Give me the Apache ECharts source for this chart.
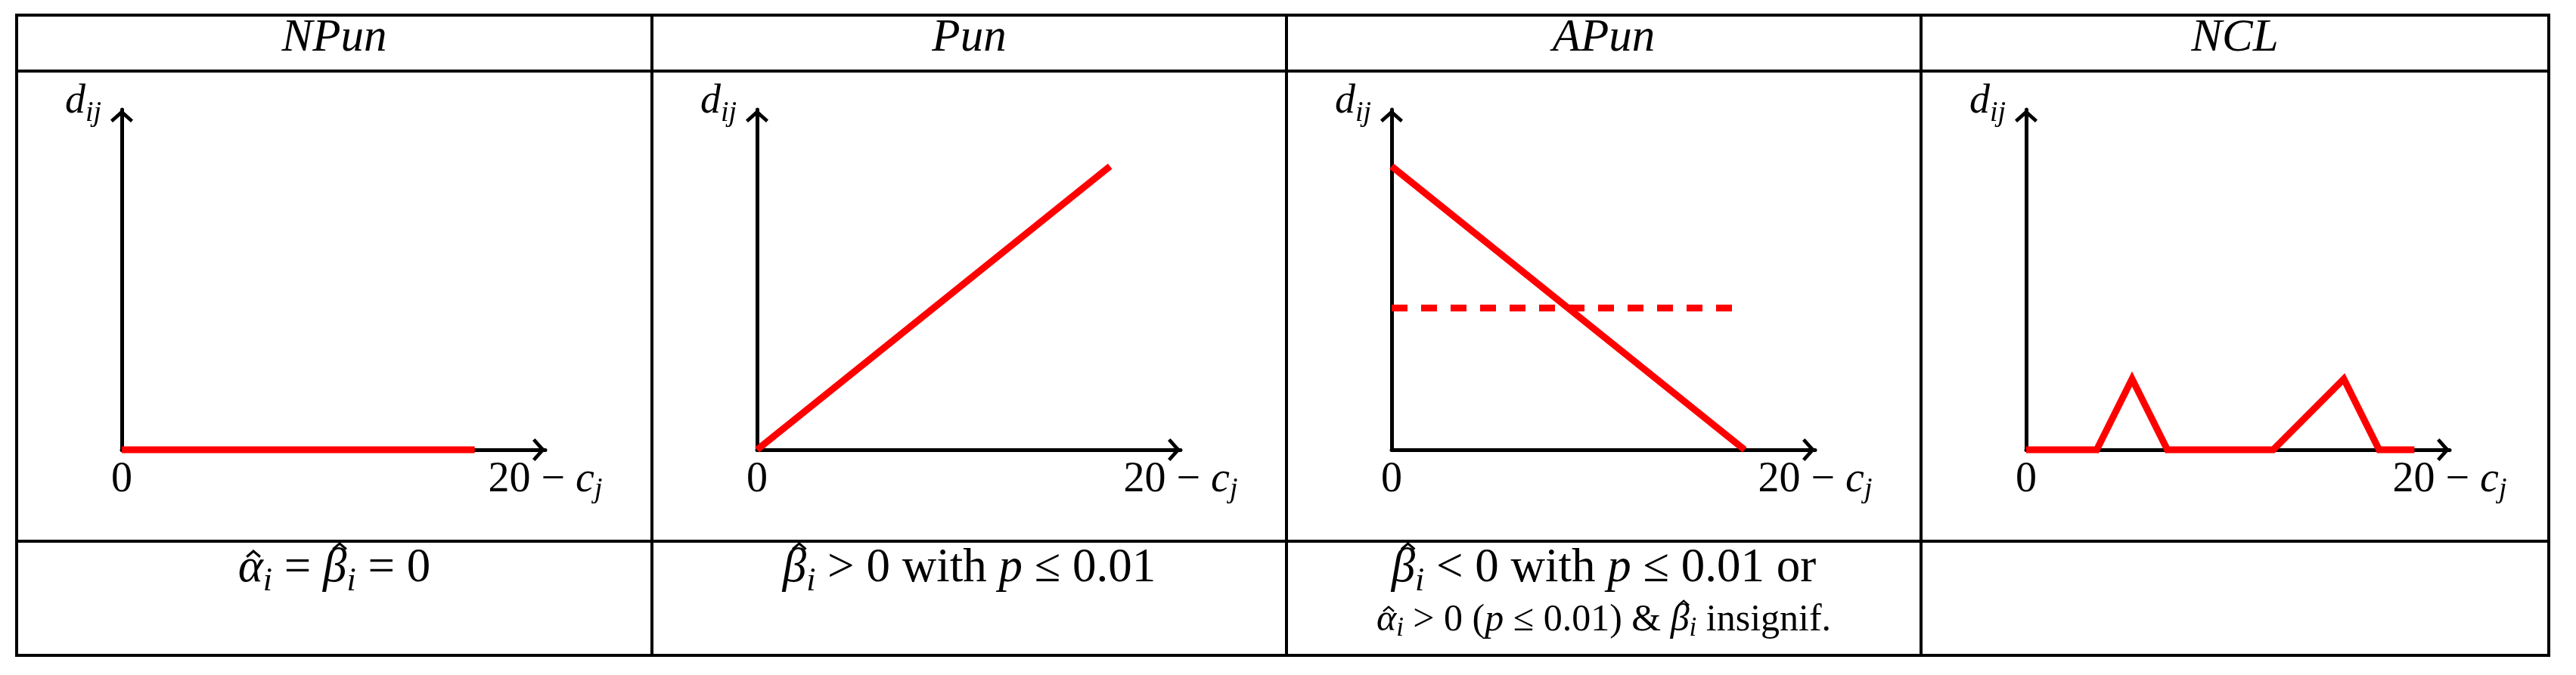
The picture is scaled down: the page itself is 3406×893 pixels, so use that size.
<!DOCTYPE html>
<html lang="en">
<head>
<meta charset="utf-8">
<script src="https://cdn.jsdelivr.net/npm/echarts@6/dist/echarts.min.js"></script>
<title>NPun / Pun / APun / NCL</title>
</head>
<body style="margin:0;background:#fff">
<div id="container" style="width:3406px;height:893px"></div>
<script>
// panel names (header row)
const panels = ['NPun', 'Pun', 'APun', 'NCL'];

// sketch values, axes run 0..12 up to the arrow tips
const axisMax = 12;
const npunX = [0, 10], npunY = [0, 0];
const punX = [0, 10], punY = [0, 10];
const apunX = [0, 10], apunY = [10, 0];
const apunDashX = [0, 9.75], apunDashY = [5, 5];
const nclX = [0, 2, 3, 4, 7, 9, 10, 11];
const nclY = [0, 0, 2.5, 0, 0, 2.5, 0, 0];

// tick labels / axis name
const xTickLabels = ['{rm|0}', '{rm|20 − }{it|c}{sub|j}'];
const yName = '{it|d}{sub|ij}';

// conditions under each sketch ({gk|..} letters get a hat)
const condLine1 = [
    '{gk|α}{sub|i}{rm| = }{gk|β}{sub|i}{rm| = 0}',
    '{gk|β}{sub|i}{rm| > 0 with }{it|p}{rm| ≤ 0.01}',
    '{gk|β}{sub|i}{rm| < 0 with }{it|p}{rm| ≤ 0.01 or}',
    ''
];
const condLine2 = ['', '', '{gk|α}{sub|i}{rm| > 0 (}{it|p}{rm| ≤ 0.01) & }{gk|β}{sub|i}{rm| insignif.}', ''];

// table frame
const colEdges = [22, 862, 1701, 2540, 3370];
const rowEdges = [20, 94, 716, 867];

const FONT = 'Liberation Serif';
const RED = '#ff0000';
const chevron = 'path://M15 0 L30 13.5 L27 17 L15 6.5 L3 17 L0 13.5 Z';

function zip(xs, ys) {
    return xs.map((x, i) => [x, ys[i]]);
}

// main size, line box, subscript size, subscript drop (top padding)
function richSet(size, box, subSize, drop) {
    return {
        it: {fontFamily: FONT, fontStyle: 'italic', fontSize: size, lineHeight: box, color: '#000'},
        rm: {fontFamily: FONT, fontStyle: 'normal', fontSize: size, lineHeight: box, color: '#000'},
        gk: {fontFamily: FONT, fontStyle: 'italic', fontSize: size, lineHeight: box, color: '#000'},
        sub: {fontFamily: FONT, fontStyle: 'italic', fontSize: subSize, lineHeight: subSize,
              padding: [drop, 0, 0, 0], color: '#000'}
    };
}

// hats over the greek letters, placed from the measured token widths
const measureCtx = document.createElement('canvas').getContext('2d');
function hatMarks(text, rich, cx, baseline, size) {
    const re = /\{(\w+)\|([^}]*)\}/g;
    let m, toks = [], total = 0;
    while ((m = re.exec(text))) {
        const st = rich[m[1]];
        measureCtx.font = st.fontStyle + ' ' + st.fontSize + 'px "' + st.fontFamily + '"';
        const w = measureCtx.measureText(m[2]).width;
        toks.push({name: m[1], text: m[2], w: w});
        total += w;
    }
    let x = cx - total / 2, marks = [];
    toks.forEach(t => {
        if (t.name === 'gk') {
            const tall = t.text === 'β';
            const hx = x + t.w / 2 + size * (tall ? 0.1 : 0.06);
            const top = baseline - size * (tall ? 0.86 : 0.7);
            marks.push({
                type: 'polyline', silent: true,
                shape: {points: [[hx - size * 0.14, top + size * 0.12], [hx, top], [hx + size * 0.14, top + size * 0.12]]},
                style: {stroke: '#000', fill: null, lineWidth: size * 0.05, lineJoin: 'miter'}
            });
        }
        x += t.w;
    });
    return marks;
}

let dom = document.getElementById('container');
let myChart = echarts.init(dom, null, {renderer: 'canvas'});

let panelSeries = [
    [{data: zip(npunX, npunY)}],
    [{data: zip(punX, punY)}],
    [{data: zip(apunX, apunY)}, {data: zip(apunDashX, apunDashY), dashed: true}],
    [{data: zip(nclX, nclY)}]
];

let grids = [], xAxes = [], yAxes = [], series = [];
const axisLine = {
    show: true,
    onZero: false,
    symbol: ['none', chevron],
    symbolSize: [30, 17],
    symbolOffset: [0, -8.5],
    lineStyle: {color: '#000', width: 5}
};

panels.forEach((name, i) => {
    grids.push({
        left: colEdges[i] + 139, top: 145, width: 560, height: 450,
        outerBoundsMode: 'none'
    });
    xAxes.push({
        type: 'value', gridIndex: i, min: 0, max: axisMax, interval: axisMax,
        axisLine: axisLine,
        axisTick: {show: false},
        splitLine: {show: false},
        axisLabel: {
            show: true, margin: 8, showMinLabel: true, showMaxLabel: true,
            formatter: v => v === 0 ? xTickLabels[0] : xTickLabels[1],
            rich: richSet(56, 64, 38, 26)
        }
    });
    yAxes.push({
        type: 'value', gridIndex: i, min: 0, max: axisMax, interval: axisMax,
        axisLine: axisLine,
        axisTick: {show: false},
        splitLine: {show: false},
        axisLabel: {show: false},
        name: yName,
        nameLocation: 'end',
        nameGap: 0,
        nameTextStyle: {
            align: 'right', verticalAlign: 'middle', padding: [0, 27, 20, 0],
            rich: richSet(54, 54, 38, 30)
        }
    });
    panelSeries[i].forEach(s => {
        series.push({
            type: 'line', xAxisIndex: i, yAxisIndex: i,
            data: s.data, symbol: 'none', clip: false, silent: true,
            lineStyle: {
                color: RED, width: 9, join: 'miter', cap: 'butt',
                type: s.dashed ? [21, 18] : 'solid'
            },
            z: 5
        });
    });
});

// table lines, headers and condition texts
let graphics = [];
rowEdges.forEach(y => graphics.push({
    type: 'line', silent: true,
    shape: {x1: colEdges[0], y1: y, x2: colEdges[colEdges.length - 1], y2: y},
    style: {stroke: '#000', lineWidth: 4, lineCap: 'square'}
}));
colEdges.forEach(x => graphics.push({
    type: 'line', silent: true,
    shape: {x1: x, y1: rowEdges[0], x2: x, y2: rowEdges[rowEdges.length - 1]},
    style: {stroke: '#000', lineWidth: 4, lineCap: 'square'}
}));

const rich1 = richSet(63, 63, 44, 35);
const rich2 = richSet(50, 50, 35, 22);
panels.forEach((name, i) => {
    let cx = (colEdges[i] + colEdges[i + 1]) / 2;
    graphics.push({
        type: 'text', x: cx, y: 51, silent: true,
        style: {text: name, fontFamily: FONT, fontStyle: 'italic', fontSize: 61,
                fill: '#000', align: 'center', verticalAlign: 'middle'}
    });
    if (condLine1[i]) {
        graphics.push({
            type: 'text', x: cx, y: 752, silent: true,
            style: {text: condLine1[i], rich: rich1, align: 'center', verticalAlign: 'middle'}
        });
        graphics.push(...hatMarks(condLine1[i], rich1, cx, 752 + 63 * 0.3375, 63));
    }
    if (condLine2[i]) {
        graphics.push({
            type: 'text', x: cx, y: 821, silent: true,
            style: {text: condLine2[i], rich: rich2, align: 'center', verticalAlign: 'middle'}
        });
        graphics.push(...hatMarks(condLine2[i], rich2, cx, 821 + 50 * 0.3375, 50));
    }
});

let option = {
    backgroundColor: '#fff',
    animation: false,
    grid: grids,
    xAxis: xAxes,
    yAxis: yAxes,
    series: series,
    graphic: graphics
};

if (option && typeof option === 'object') {
    myChart.setOption(option);
}
</script>
</body>
</html>
